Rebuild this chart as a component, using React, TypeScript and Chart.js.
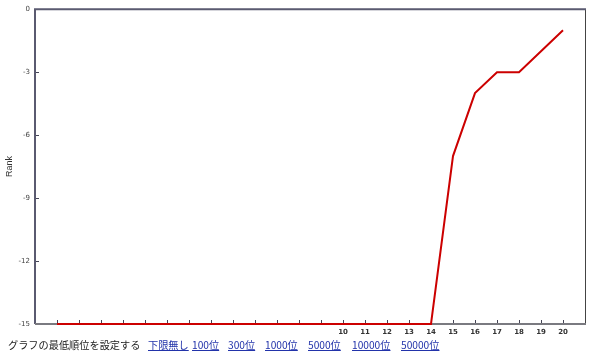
import React, { useEffect, useRef } from 'react';
import { Chart, registerables } from 'chart.js';

Chart.register(...registerables);

// x categories (first 13 points carry no printed label)
const xLabels: string[] = [
  '', '', '', '', '', '', '', '', '', '', '', '', '',
  '10', '11', '12', '13', '14', '15', '16', '17', '18', '19', '20',
];
// rank series
const rankValues: number[] = [
  -15, -15, -15, -15, -15, -15, -15, -15, -15, -15, -15, -15, -15,
  -15, -15, -15, -15, -15, -7, -4, -3, -3, -2, -1,
];
const yTickValues: number[] = [0, -3, -6, -9, -12, -15];
const yTitle = 'Rank';
const footerLead = 'グラフの最低順位を設定する';
const footerLinks: string[] = ['下限無し', '100位', '300位', '1000位', '5000位', '10000位', '50000位'];
const footerLinkX: number[] = [148, 192, 228, 265, 308, 352, 401];

const framePlugin = {
  id: 'frameAndTicks',
  beforeDatasetsDraw(chart: any) {
    const { ctx, chartArea, scales } = chart;
    const { left, right, top, bottom } = chartArea;
    ctx.save();
    // inner tick marks
    ctx.strokeStyle = '#444455';
    ctx.lineWidth = 1;
    scales.y.ticks.forEach((t: any) => {
      const py = Math.round(scales.y.getPixelForValue(t.value)) + 0.5;
      ctx.beginPath();
      ctx.moveTo(left, py);
      ctx.lineTo(left + 4, py);
      ctx.stroke();
    });
    scales.x.ticks.forEach((t: any) => {
      const px = Math.round(scales.x.getPixelForValue(t.value)) + 0.5;
      ctx.beginPath();
      ctx.moveTo(px, bottom);
      ctx.lineTo(px, bottom - 4);
      ctx.stroke();
    });
    // frame
    ctx.lineWidth = 1;
    ctx.strokeStyle = '#444444';
    ctx.beginPath();
    ctx.moveTo(right + 0.5, top);
    ctx.lineTo(right + 0.5, bottom);
    ctx.stroke();
    ctx.lineWidth = 2;
    ctx.strokeStyle = '#5a5a70';
    ctx.beginPath();
    ctx.moveTo(left, bottom);
    ctx.lineTo(left, top);
    ctx.lineTo(right + 1, top);
    ctx.stroke();
    ctx.strokeStyle = '#7a7a80';
    ctx.beginPath();
    ctx.moveTo(left, bottom);
    ctx.lineTo(right + 1, bottom);
    ctx.stroke();
    ctx.restore();
  },
};

export default function App() {
  const canvasRef = useRef<HTMLCanvasElement | null>(null);

  useEffect(() => {
    if (!canvasRef.current) return;
    const points = rankValues.map((v, i) => ({ x: i, y: v }));
    const chart = new Chart(canvasRef.current, {
      type: 'line',
      data: {
        datasets: [
          {
            data: points,
            borderColor: '#cc0000',
            borderWidth: 2,
            pointRadius: 0,
            tension: 0,
            fill: false,
            clip: false as any,
          },
        ],
      },
      options: {
        animation: false,
        responsive: false,
        layout: { padding: { top: 7, right: 15, left: 0, bottom: 0 } },
        plugins: { legend: { display: false }, tooltip: { enabled: false } },
        scales: {
          x: {
            type: 'linear',
            min: -1,
            max: xLabels.length,
            grid: { display: false, drawTicks: false },
            border: { display: false },
            afterBuildTicks: (scale: any) => {
              scale.ticks = xLabels.map((_, i) => ({ value: i }));
            },
            afterFit: (scale: any) => {
              scale.height = 14;
            },
            ticks: {
              autoSkip: false,
              maxRotation: 0,
              padding: 4,
              color: '#333333',
              font: { family: 'DejaVu Sans', size: 7, weight: 'bold' },
              callback: (v: any) => xLabels[v] ?? '',
            },
          },
          y: {
            type: 'linear',
            min: -15,
            max: 0,
            grid: { display: false, drawTicks: false },
            border: { display: false },
            afterBuildTicks: (scale: any) => {
              scale.ticks = yTickValues.map((v) => ({ value: v }));
            },
            afterFit: (scale: any) => {
              scale.width = 35;
            },
            ticks: {
              padding: 5,
              color: '#444444',
              font: { family: 'DejaVu Sans', size: 7 },
              callback: (v: any) => String(v),
            },
            title: {
              display: true,
              text: yTitle,
              color: '#333333',
              font: { family: 'Liberation Sans', size: 9 },
              padding: { top: 4, bottom: 0 },
            },
          },
        },
      },
      plugins: [framePlugin],
    });
    return () => chart.destroy();
  }, []);

  return (
    <div style={{ position: 'absolute', left: 0, top: 0, width: 600, height: 357, background: '#fff' }}>
      <canvas ref={canvasRef} width={600} height={338} style={{ display: 'block' }} />
      <div
        style={{
          position: 'absolute',
          top: 337,
          left: 0,
          width: 600,
          height: 16,
          fontFamily: "'Noto Sans CJK JP', sans-serif",
          fontSize: 10.2,
          lineHeight: '16px',
          color: '#222',
        }}
      >
        <span style={{ position: 'absolute', left: 8 }}>{footerLead}</span>
        {footerLinks.map((t, i) => (
          <span
            key={t}
            style={{ position: 'absolute', left: footerLinkX[i], color: '#2233aa', textDecoration: 'underline' }}
          >
            {t}
          </span>
        ))}
      </div>
    </div>
  );
}
